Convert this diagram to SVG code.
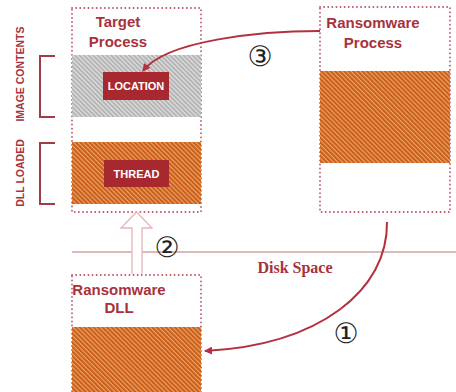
<svg xmlns="http://www.w3.org/2000/svg" width="456" height="392" viewBox="0 0 456 392">
  <style>
    .title { font-family: "Liberation Sans", Arial, sans-serif; font-weight: bold; font-size: 15px; fill: #a8323c; text-anchor: middle; }
    .tag { font-family: "Liberation Sans", Arial, sans-serif; font-weight: bold; font-size: 11px; fill: #ffffff; text-anchor: middle; }
    .side { font-family: "Liberation Sans", Arial, sans-serif; font-weight: bold; font-size: 10.5px; fill: #a8323c; text-anchor: middle; }
    .num { font-family: "DejaVu Sans", sans-serif; font-size: 28px; fill: #222222; text-anchor: middle; }
    .box { fill: #ffffff; stroke: #bf5664; stroke-width: 1.8; stroke-dasharray: 0.1 4; stroke-linecap: round; }
    .label { fill: #a8282f; }
    .bracket { fill: none; stroke: #a33a48; stroke-width: 2; }
    .flow { fill: none; stroke: #b4303f; stroke-width: 2; }
  </style>
  <defs>
    <pattern id="hatchOrange" width="3.2" height="3.2" patternUnits="userSpaceOnUse" patternTransform="rotate(45)">
      <rect width="3.2" height="3.2" fill="#c95f18"/>
      <rect width="3.2" height="1.1" fill="#f0a46c"/>
    </pattern>
    <pattern id="hatchGray" width="3.2" height="3.2" patternUnits="userSpaceOnUse" patternTransform="rotate(45)">
      <rect width="3.2" height="3.2" fill="#b4b4b4"/>
      <rect width="3.2" height="1.1" fill="#e4e4e4"/>
    </pattern>
    <marker id="head" markerWidth="8" markerHeight="8" refX="7" refY="4" orient="auto" markerUnits="userSpaceOnUse">
      <path d="M0,0 L8,4 L0,8 Z" fill="#b4303f"/>
    </marker>
  </defs>

  <!-- disk boundary -->
  <line x1="72" y1="252" x2="456" y2="252" stroke="#b87474" stroke-width="1"/>
  <text x="295" y="273" font-family="Liberation Serif, 'Times New Roman', serif" font-weight="bold" font-size="16" fill="#a8323c" text-anchor="middle">Disk Space</text>

  <!-- target process -->
  <g id="target-process">
    <rect class="box" x="72" y="8" width="129" height="204"/>
    <text class="title" x="118" y="27">Target</text>
    <text class="title" x="118" y="47">Process</text>
    <rect x="72" y="55" width="129" height="62" fill="url(#hatchGray)"/>
    <rect x="72" y="142" width="129" height="62" fill="url(#hatchOrange)"/>
    <g id="location">
      <rect class="label" x="103" y="72" width="66" height="28"/>
      <text class="tag" x="136" y="90">LOCATION</text>
    </g>
    <g id="thread">
      <rect class="label" x="104" y="160" width="65" height="27"/>
      <text class="tag" x="136.5" y="177.5">THREAD</text>
    </g>
  </g>

  <!-- side brackets -->
  <g id="image-contents">
    <path class="bracket" d="M55,56 H40 V117 H55"/>
    <text class="side" transform="translate(23.5,74) rotate(-90)">IMAGE CONTENTS</text>
  </g>
  <g id="dll-loaded">
    <path class="bracket" d="M55,143 H40 V204 H55"/>
    <text class="side" transform="translate(23.5,173) rotate(-90)">DLL LOADED</text>
  </g>

  <!-- ransomware process -->
  <g id="ransomware-process">
    <rect class="box" x="320" y="7" width="130" height="205"/>
    <text class="title" x="373" y="28">Ransomware</text>
    <text class="title" x="373" y="48">Process</text>
    <rect x="320" y="71" width="130" height="92" fill="url(#hatchOrange)"/>
  </g>

  <!-- ransomware dll -->
  <g id="ransomware-dll">
    <rect class="box" x="72" y="275" width="129" height="130"/>
    <text class="title" x="119" y="295" font-size="14">Ransomware</text>
    <text class="title" x="119" y="313" font-size="14">DLL</text>
    <rect x="72" y="327" width="129" height="65" fill="url(#hatchOrange)"/>
  </g>

  <!-- connectors -->
  <g id="connectors">
    <path class="flow" d="M320,31 C262,31 166,40 143,71" marker-end="url(#head)"/>
    <path class="flow" d="M387,222 C388,290 320,345 205,351" marker-end="url(#head)"/>
    <path d="M132,274 V228 H121 L136.5,212 L152,228 H142 V274" fill="#ffffff" stroke="#e6b4b6" stroke-width="1.3" stroke-linejoin="miter"/>
    <text class="num" x="260" y="66">③</text>
    <text class="num" x="167" y="257">②</text>
    <text class="num" x="346" y="343">①</text>
  </g>
</svg>
